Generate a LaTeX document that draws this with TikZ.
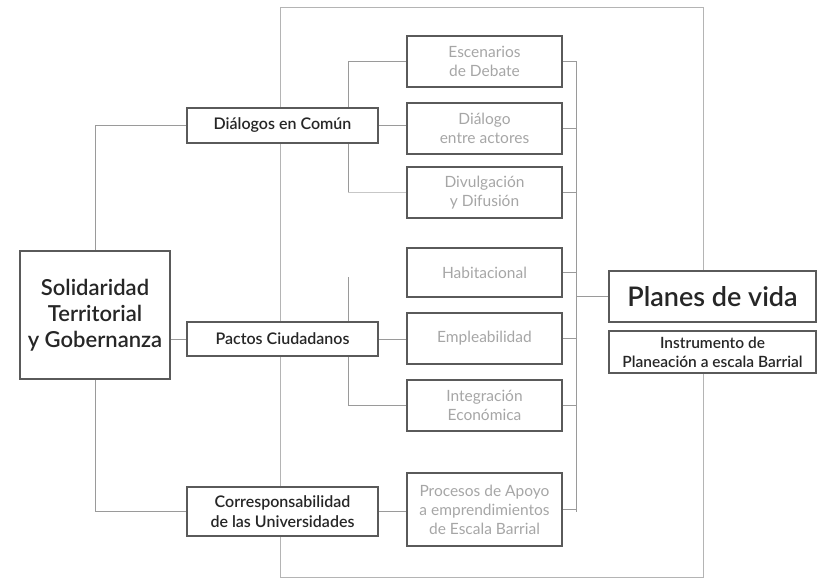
\documentclass[tikz,border=0pt]{standalone}
\usepackage{fontspec}
\setmainfont{Lato}
\newfontfamily\semifont{Lato Semibold}
\usetikzlibrary{backgrounds}
\definecolor{boxline}{HTML}{5A5A5A}
\definecolor{conn}{HTML}{9A9A9A}
\definecolor{frameline}{HTML}{B4B4B4}
\definecolor{maintext}{HTML}{262626}
\definecolor{softtext}{HTML}{A6A6A6}
\tikzset{
  mainbox/.style={draw=boxline, line width=1.1pt, fill=white, text=maintext, align=center, inner sep=1pt},
  subbox/.style={draw=boxline, line width=1.1pt, fill=white, text=softtext, align=center, inner sep=1pt,
    minimum width=155pt, font=\fontsize{15.5}{19}\selectfont},
  link/.style={draw=conn, line width=0.9pt},
  faint/.style={draw=conn!55, line width=0.8pt},
  framel/.style={draw=frameline, line width=1pt}
}
\begin{document}
\begin{tikzpicture}[x=1pt,y=-1pt]
\useasboundingbox (0,0) rectangle (824,583);
% main nodes
\node[mainbox, minimum width=150pt, minimum height=128pt, font=\semifont\fontsize{22}{26}\selectfont] (sol) at (95,315) {Solidaridad\\Territorial\\y Gobernanza};
\node[mainbox, minimum width=191pt, minimum height=35pt, font=\semifont\fontsize{16}{19}\selectfont] (dial) at (282.5,125.5) {Diálogos en Común};
\node[mainbox, minimum width=191pt, minimum height=34pt, font=\semifont\fontsize{16}{19}\selectfont] (pact) at (282.5,339) {Pactos Ciudadanos};
\node[mainbox, minimum width=191pt, minimum height=49pt, font=\semifont\fontsize{16}{20}\selectfont] (corr) at (282.5,511.5) {Corresponsabilidad\\de las Universidades};
% column
\node[subbox, minimum height=51pt] (esc) at (484.5,61.5) {Escenarios\\de Debate};
\node[subbox, minimum height=51pt] (dia) at (484.5,128.5) {Diálogo\\entre actores};
\node[subbox, minimum height=51pt] (div) at (484.5,192.5) {Divulgación\\y Difusión};
\node[subbox, minimum height=49pt] (hab) at (484.5,272.5) {Habitacional};
\node[subbox, minimum height=51pt] (emp) at (484.5,338.5) {Empleabilidad};
\node[subbox, minimum height=51pt] (integ) at (484.5,405.5) {Integración\\Económica};
\node[subbox, minimum height=73pt] (proc) at (484.5,509.5) {Procesos de Apoyo\\a emprendimientos\\de Escala Barrial};
% right
\node[mainbox, minimum width=207pt, minimum height=51pt, font=\semifont\fontsize{27}{30}\selectfont] (planes) at (712.5,296.5) {Planes de vida};
\node[mainbox, minimum width=207pt, minimum height=42pt, font=\semifont\fontsize{15.5}{19}\selectfont] (instr) at (712.5,352) {Instrumento de\\Planeación a escala Barrial};
% helper coordinates
\coordinate (ftl) at (280,8);
\coordinate (ftr) at (703,8);
\coordinate (fbl) at (280,577);
\coordinate (fbr) at (703,577);
\coordinate (bx) at (348,0);
\coordinate (cx) at (576,0);
\begin{pgfonlayer}{background}
% frame
\draw[framel] (fbl) -- (ftl) -- (ftr) -- (ftr |- planes.north);
\draw[framel] (instr.south -| fbr) -- (fbr) -- (fbl);
% left tree
\draw[link] (sol.north) -- (sol.north |- dial.west) -- (dial.west);
\draw[link] (sol.east |- pact.west) -- (pact.west);
\draw[link] (sol.south) -- (sol.south |- corr.west) -- (corr.west);
% Dialogos
\draw[link] (dial.east) -- (dial.east -| dia.west);
\draw[link] (esc.west) -- (esc.west -| bx) -- (bx |- div.west);
\draw[faint] (bx |- div.west) -- (div.west);
% Pactos
\draw[link] (pact.east) -- (pact.east -| emp.west);
\draw[link] ([yshift=-4.5pt]bx |- hab.west) -- (bx |- integ.west) -- (integ.west);
% Corresponsabilidad
\draw[link] (corr.east) -- (corr.east -| proc.west);
% collector
\draw[link] (esc.east) -- (esc.east -| cx) -- (cx |- corr.east);
\draw[link] (dia.east) -- (dia.east -| cx);
\draw[link] (div.east) -- (div.east -| cx);
\draw[link] (hab.east) -- (hab.east -| cx);
\draw[link] (emp.east) -- (emp.east -| cx);
\draw[link] (integ.east) -- (integ.east -| cx);
\draw[link] (proc.east) -- (proc.east -| cx);
\draw[link] (cx |- planes.west) -- (planes.west);
\end{pgfonlayer}
\end{tikzpicture}
\end{document}
